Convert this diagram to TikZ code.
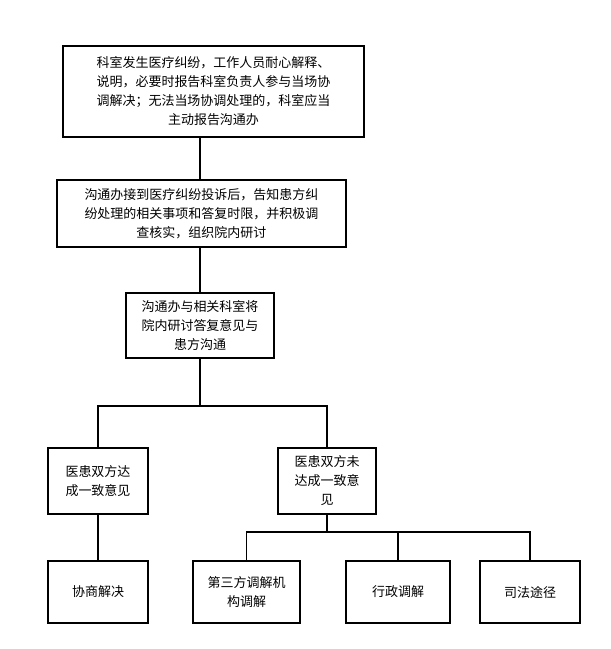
\documentclass[tikz,border=0pt]{standalone}
\usepackage{fontspec}
\newfontfamily\cjk{Noto Sans CJK SC}
\begin{document}
\begin{tikzpicture}[x=1pt,y=-1pt,every node/.style={draw,line width=1.3pt,align=center,font=\cjk\fontsize{13}{19}\selectfont,inner sep=2pt,outer sep=0pt},line width=1.3pt]
            \useasboundingbox (0,0) rectangle (611,649);
            \node[minimum width=301pt,minimum height=91pt] (report) at (213.5,91.5) {科室发生医疗纠纷，工作人员耐心解释、\\说明，必要时报告科室负责人参与当场协\\调解决；无法当场协调处理的，科室应当\\主动报告沟通办};
            \node[minimum width=289pt,minimum height=67pt] (office) at (201.5,213.5) {沟通办接到医疗纠纷投诉后，告知患方纠\\纷处理的相关事项和答复时限，并积极调\\查核实，组织院内研讨};
            \node[minimum width=148pt,minimum height=65pt] (reply) at (200,325.5) {沟通办与相关科室将\\院内研讨答复意见与\\患方沟通};
            \node[minimum width=100pt,minimum height=66pt] (agree) at (98,481) {医患双方达\\成一致意见};
            \node[minimum width=98pt,minimum height=66pt] (disagree) at (327,481) {医患双方未\\达成一致意\\见};
            \node[minimum width=100pt,minimum height=62pt] (settle) at (98,592) {协商解决};
            \node[minimum width=107pt,minimum height=62pt] (third) at (246.5,592) {第三方调解机\\构调解};
            \node[minimum width=104pt,minimum height=62pt] (admin) at (398,592) {行政调解};
            \node[minimum width=100pt,minimum height=62pt] (court) at (530,592) {司法途径};
            \coordinate (split) at (200,406);
            \coordinate (branch) at (327,532);
            \draw (report.south -| office) ++(-1.5,0) -- (200,180);
            \draw (office.south -| reply) -- (reply);
            \draw (reply.south) -- (split);
            \draw (agree.north) |- (split) -| (disagree.north);
            \draw (agree) -- (settle);
            \draw (disagree) -- (branch);
            \draw (third.north) |- (branch) -| (court.north);
            \draw (branch -| admin) -- (admin);
        \end{tikzpicture}
\end{document}
